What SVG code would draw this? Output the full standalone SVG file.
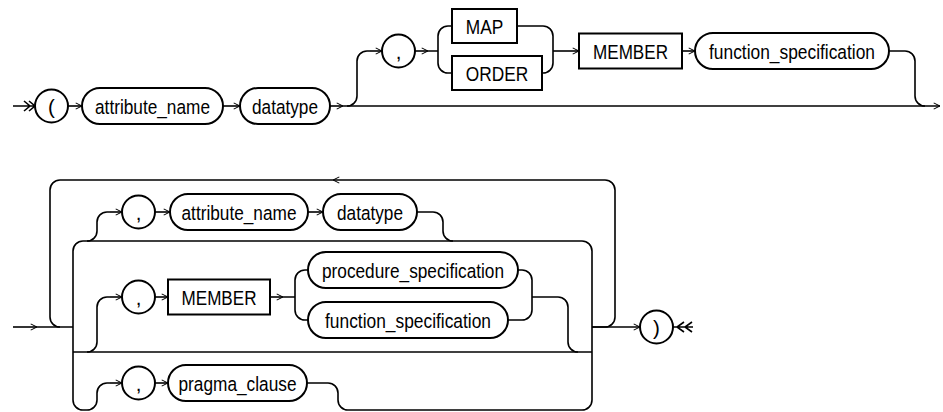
<svg xmlns="http://www.w3.org/2000/svg" width="943" height="412" viewBox="0 0 943 412">
<style>
.n rect,.n circle{fill:#fff;stroke:#000;stroke-width:2}
.c path{fill:none;stroke:#000;stroke-width:1.6}
.c path.m{marker-end:url(#a)}
text{font-family:"Liberation Sans",Arial,sans-serif;font-size:20.5px;fill:#000;text-anchor:middle}
</style>
<defs>
<marker id="a" viewBox="0 0 10 10" refX="10" refY="5" markerWidth="7" markerHeight="10" markerUnits="userSpaceOnUse" orient="auto">
<path d="M1,0.5 L10,5 L1,9.5" fill="none" stroke="#000" stroke-width="1.5"/>
</marker>
</defs>
<rect width="943" height="412" fill="#fff"/>
<g class="c" id="connectors">
<path d="M13,106 H35 M24,101 L30,106 L24,111 M29,101 L35,106 L29,111"/>
<path class="m" d="M68,106 H82"/>
<path class="m" d="M223,106 H240"/>
<path class="m" d="M330,106 H343"/>
<path class="m" d="M343,106 H940"/>
<path d="M347,106 A10,10 0 0 0 357,96 V61 A10,10 0 0 1 367,51 H370"/>
<path class="m" d="M370,51 H382"/>
<path class="m" d="M415,51 H428"/>
<path d="M428,51 H438 V36 A10,10 0 0 1 448,26 H452 M438,51 V63 A10,10 0 0 0 448,73 H452"/>
<path d="M517,26 H543 A10,10 0 0 1 553,36 V63 A10,10 0 0 1 543,73 H542"/>
<path class="m" d="M553,51 H579"/>
<path class="m" d="M682,51 H695"/>
<path d="M889,51 H905 A10,10 0 0 1 915,61 V96 A10,10 0 0 0 925,106"/>
<path class="m" d="M13,327 H37"/>
<path d="M37,327 H73"/>
<path class="m" d="M592,327 H605 A10,10 0 0 0 615,317 V190 A10,10 0 0 0 605,180 H333"/>
<path d="M333,180 H60 A10,10 0 0 0 50,190 V317 A10,10 0 0 0 60,327"/>
<path d="M83,241 A10,10 0 0 0 73,251 V400 A10,10 0 0 0 83,410 H87 A10,10 0 0 0 97,400 V393 A10,10 0 0 1 107,383 H110"/>
<path d="M83,241 H582 A10,10 0 0 1 592,251 V400 A10,10 0 0 1 582,410 H348"/>
<path d="M73,352 H592"/>
<path class="m" d="M592,327 H640"/>
<path d="M87,241 A10,10 0 0 0 97,231 V222 A10,10 0 0 1 107,212 H110"/>
<path class="m" d="M110,212 H122"/>
<path class="m" d="M155,212 H170"/>
<path class="m" d="M308,212 H323"/>
<path d="M417,212 H433 A10,10 0 0 1 443,222 V231 A10,10 0 0 0 453,241"/>
<path d="M87,352 A10,10 0 0 0 97,342 V307 A10,10 0 0 1 107,297 H110"/>
<path class="m" d="M110,297 H122"/>
<path class="m" d="M155,297 H168"/>
<path class="m" d="M270,297 H283"/>
<path d="M283,297 H295 V280 A10,10 0 0 1 305,270 H308 M295,297 V310 A10,10 0 0 0 305,320 H308"/>
<path d="M518,270 H522 A10,10 0 0 1 532,280 V310 A10,10 0 0 1 522,320 H508"/>
<path d="M532,297 H558 A10,10 0 0 1 568,307 V342 A10,10 0 0 0 578,352"/>
<path class="m" d="M110,383 H122"/>
<path class="m" d="M155,383 H168"/>
<path d="M307,383 H328 A10,10 0 0 1 338,393 V400 A10,10 0 0 0 348,410"/>
<path d="M673,327 H693 M684,322 L677,327 L684,332 M692,322 L685,327 L692,332"/>
</g>
<g class="n" id="lparen"><circle cx="51.5" cy="106" r="16.5"/><text x="51.5" y="113.5">(</text></g>
<g class="n" id="attr1"><rect x="82" y="88" width="141" height="36" rx="18"/><text x="152.5" y="113.5" textLength="115" lengthAdjust="spacingAndGlyphs">attribute_name</text></g>
<g class="n" id="dtype1"><rect x="240" y="88" width="90" height="36" rx="18"/><text x="285" y="113.5" textLength="66" lengthAdjust="spacingAndGlyphs">datatype</text></g>
<g class="n" id="comma1"><circle cx="398.5" cy="51" r="16.5"/><text x="398.5" y="58.5">,</text></g>
<g class="n" id="map"><rect x="452" y="9" width="65" height="34"/><text x="484.5" y="33.5" textLength="37.5" lengthAdjust="spacingAndGlyphs">MAP</text></g>
<g class="n" id="order"><rect x="452" y="56" width="90" height="34"/><text x="497" y="80.5" textLength="62.5" lengthAdjust="spacingAndGlyphs">ORDER</text></g>
<g class="n" id="member1"><rect x="579" y="33.5" width="103" height="35"/><text x="630.5" y="58.5" textLength="75" lengthAdjust="spacingAndGlyphs">MEMBER</text></g>
<g class="n" id="func1"><rect x="695" y="33" width="194" height="36" rx="18"/><text x="792" y="58.5" textLength="166" lengthAdjust="spacingAndGlyphs">function_specification</text></g>
<g class="n" id="comma2"><circle cx="138.5" cy="212" r="16.5"/><text x="138.5" y="219.5">,</text></g>
<g class="n" id="attr2"><rect x="170" y="194" width="138" height="36" rx="18"/><text x="239" y="219.5" textLength="115" lengthAdjust="spacingAndGlyphs">attribute_name</text></g>
<g class="n" id="dtype2"><rect x="323" y="194" width="94" height="36" rx="18"/><text x="370" y="219.5" textLength="66" lengthAdjust="spacingAndGlyphs">datatype</text></g>
<g class="n" id="comma3"><circle cx="138.5" cy="297" r="16.5"/><text x="138.5" y="304.5">,</text></g>
<g class="n" id="member2"><rect x="168" y="279.5" width="102" height="35"/><text x="219" y="304.5" textLength="75" lengthAdjust="spacingAndGlyphs">MEMBER</text></g>
<g class="n" id="proc"><rect x="308" y="252" width="210" height="36" rx="18"/><text x="413" y="277.5" textLength="182" lengthAdjust="spacingAndGlyphs">procedure_specification</text></g>
<g class="n" id="func2"><rect x="308" y="302" width="200" height="36" rx="18"/><text x="408" y="327.5" textLength="166" lengthAdjust="spacingAndGlyphs">function_specification</text></g>
<g class="n" id="comma4"><circle cx="138.5" cy="383" r="16.5"/><text x="138.5" y="390.5">,</text></g>
<g class="n" id="pragma"><rect x="168" y="365" width="139" height="36" rx="18"/><text x="237.5" y="390.5" textLength="118" lengthAdjust="spacingAndGlyphs">pragma_clause</text></g>
<g class="n" id="rparen"><circle cx="656.5" cy="327" r="16.5"/><text x="656.5" y="334.5">)</text></g>
</svg>
